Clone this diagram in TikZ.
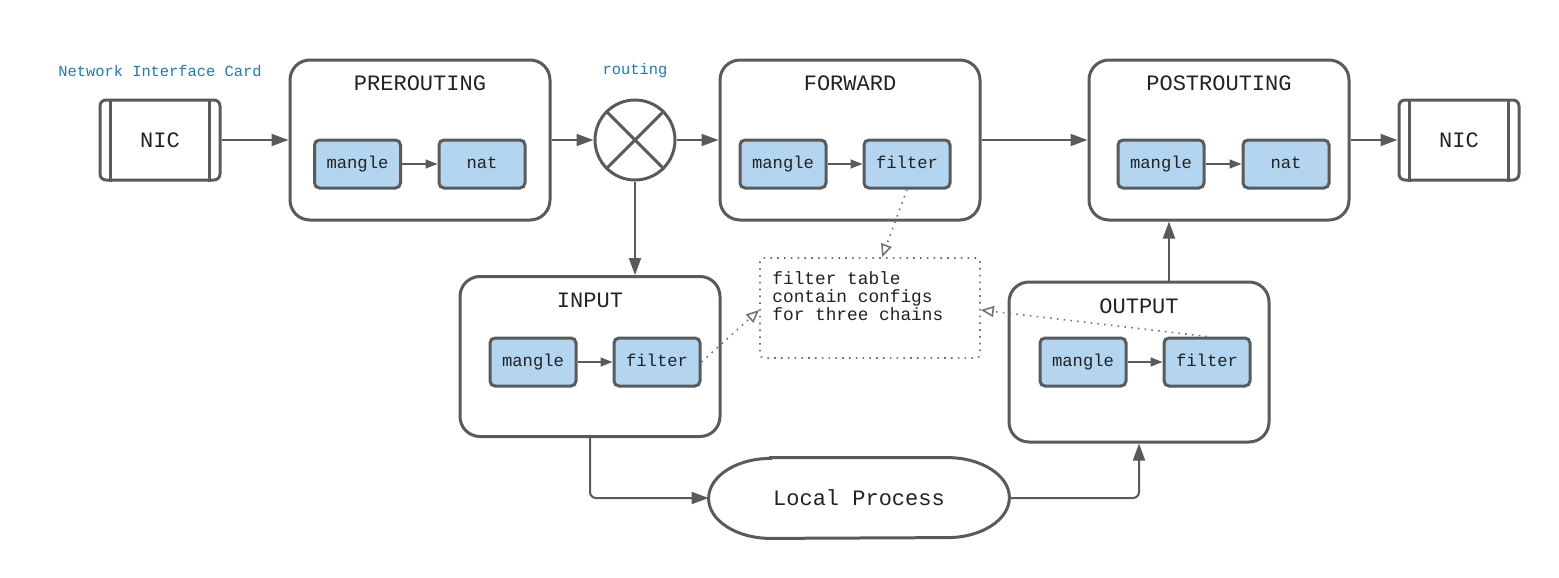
\documentclass[tikz,border=0pt]{standalone}
\usepackage{fontspec}
\setmonofont{Liberation Mono}
\usetikzlibrary{arrows.meta}
\definecolor{ln}{HTML}{5A5A5A}
\definecolor{bl}{HTML}{B3D5EF}
\definecolor{lbl}{HTML}{1A7AC2}
\definecolor{tx}{HTML}{222222}
\begin{document}
\begin{tikzpicture}[x=0.5pt,y=-0.5pt,
  chainbox/.style={draw=ln, line width=1.5pt, rounded corners=10pt, minimum width=130pt, minimum height=80pt, inner sep=0pt},
  tbl/.style={draw=ln, fill=bl, line width=1.5pt, rounded corners=2.5pt, minimum width=43pt, minimum height=24pt, font=\ttfamily\fontsize{8.6}{10}\selectfont, text=tx, inner sep=0pt, text height=6.2pt, text depth=1.6pt},
  ttl/.style={font=\ttfamily\fontsize{11}{13}\selectfont, text=tx, inner sep=0pt},
  lab/.style={font=\ttfamily\fontsize{7.7}{9}\selectfont, text=lbl, inner sep=0pt},
  nicbox/.style={draw=ln, line width=1.5pt, rounded corners=3pt, minimum width=60pt, minimum height=40pt, font=\ttfamily\fontsize{11}{13}\selectfont, text=tx, inner sep=0pt},
  arr/.style={draw=ln, line width=1pt, -{Triangle[length=8.5pt,width=6pt]}},
  sarr/.style={draw=ln, line width=0.7pt, -{Triangle[length=6pt,width=4.5pt]}},
  notearr/.style={draw=ln!85, line width=0.8pt, dash pattern=on 0.8pt off 2.6pt, -{Triangle[open,length=6.5pt,width=5.5pt,line width=0.8pt]}},
]
\useasboundingbox (0,0) rectangle (1559,578);

% NICs
\node[nicbox] (nicl) at (160,140) {NIC};
\draw[draw=ln, line width=1.5pt] ([xshift=6pt]nicl.north west) -- ([xshift=6pt]nicl.south west)
  ([xshift=-6pt]nicl.north east) -- ([xshift=-6pt]nicl.south east);
\node[lab] (niclab) at (160,71) {Network Interface Card};
\node[nicbox] (nicr) at (1459,140) {NIC};
\draw[draw=ln, line width=1.5pt] ([xshift=6pt]nicr.north west) -- ([xshift=6pt]nicr.south west)
  ([xshift=-6pt]nicr.north east) -- ([xshift=-6pt]nicr.south east);

% PREROUTING
\node[chainbox] (pre) at (420,140) {};
\node[ttl] (pret) at (420,83) {PREROUTING};
\node[tbl] (pm) at (357.5,164) {mangle};
\node[tbl] (pn) at (482,164) {nat};
\draw[sarr] (pm) -- (pn);

% routing
\node[draw=ln, line width=1.5pt, circle, minimum size=40pt, inner sep=0pt] (rt) at (635,140) {};
\draw[draw=ln, line width=1.5pt] (rt.north east) -- (rt.south west) (rt.north west) -- (rt.south east);
\node[lab] (rtlab) at (635,71) {routing};

% FORWARD
\node[chainbox] (fwd) at (850,140) {};
\node[ttl] (fwdt) at (850,83) {FORWARD};
\node[tbl] (fm) at (783,164) {mangle};
\node[tbl] (ff) at (907,164) {filter};
\draw[sarr] (fm) -- (ff);

% POSTROUTING
\node[chainbox] (post) at (1219,140) {};
\node[ttl] (postt) at (1219,83) {POSTROUTING};
\node[tbl] (qm) at (1161,164) {mangle};
\node[tbl] (qn) at (1286,164) {nat};
\draw[sarr] (qm) -- (qn);

% INPUT
\node[chainbox] (inp) at (590,356.5) {};
\node[ttl] (inpt) at (590,300) {INPUT};
\node[tbl] (im) at (533,362) {mangle};
\node[tbl] (if) at (657,362) {filter};
\draw[sarr] (im) -- (if);

% OUTPUT
\node[chainbox] (out) at (1139,362) {};
\node[ttl] (outt) at (1139,306) {OUTPUT};
\node[tbl] (om) at (1083,362) {mangle};
\node[tbl] (of) at (1207,362) {filter};
\draw[sarr] (om) -- (of);

% note
\node[draw=ln!85, line width=0.8pt, dash pattern=on 0.8pt off 2.6pt, rounded corners=2pt, minimum width=110pt, minimum height=50pt, inner sep=0pt] (note) at (870,308) {};
\node[anchor=north west, align=left, inner sep=0pt, font=\ttfamily\fontsize{8.9}{9}\selectfont, text=tx] (notet) at (772,271) {filter table\\contain configs\\for three chains};

% Local process
\node[minimum width=150pt, minimum height=40pt, inner sep=0pt, font=\ttfamily\fontsize{11}{13}\selectfont, text=tx] (lp) at (859,498) {Local Process};
\draw[draw=ln, line width=1.5pt] ([xshift=31pt]lp.north west) -- ([xshift=-31pt]lp.north east)
  arc[start angle=90, end angle=-90, x radius=31pt, y radius=20pt]
  -- ([xshift=31pt]lp.south west)
  arc[start angle=270, end angle=90, x radius=31pt, y radius=20pt] -- cycle;

% main flow
\draw[arr] (nicl) -- (pre);
\draw[arr] (pre) -- (rt);
\draw[arr] (rt) -- (fwd);
\draw[arr] (fwd) -- (post);
\draw[arr] (post) -- (nicr);
\draw[arr] (rt.south) -- (rt.south |- inp.north);
\draw[arr, rounded corners=3pt] (inp.south) |- (lp.west);
\draw[arr, rounded corners=3pt] (lp.east) -| (out.south);
\draw[arr] ([xshift=15pt]out.north) -- ([xshift=15pt]out.north |- post.south);

% dotted references
\draw[notearr] (ff.south) -- ([xshift=6pt]note.north);
\draw[notearr] (if.east) -- ([yshift=-1pt]note.west);
\draw[notearr] (of.north) -- ([yshift=-1pt]note.east);
\end{tikzpicture}
\end{document}
